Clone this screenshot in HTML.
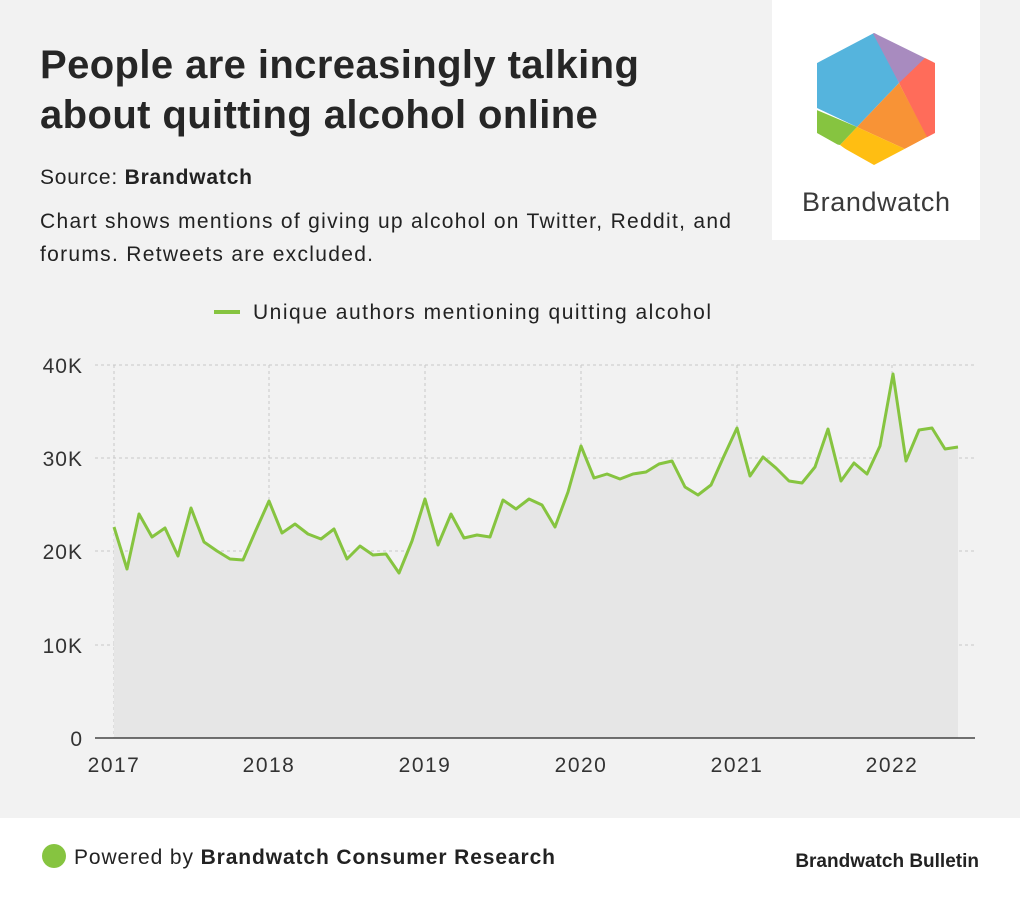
<!DOCTYPE html>
<html><head><meta charset="utf-8"><style>
body{margin:0;width:1020px;height:900px;background:#f2f2f2;font-family:"Liberation Sans",Arial,sans-serif;position:relative;overflow:hidden}
.t{position:absolute;color:#222}
</style></head><body>
<div class="t" style="left:40px;top:40px;font-size:40px;font-weight:bold;line-height:50px;color:#262626;letter-spacing:0.4px">People are increasingly talking<br>about quitting alcohol online</div>
<div class="t" style="left:40px;top:166px;font-size:21px;letter-spacing:0.8px">Source: <b>Brandwatch</b></div>
<div class="t" style="left:40px;top:205px;font-size:21px;line-height:33px;letter-spacing:1.3px">Chart shows mentions of giving up alcohol on Twitter, Reddit, and<br>forums. Retweets are excluded.</div>
<div style="position:absolute;left:772px;top:0;width:208px;height:240px;background:#fff"></div>
<svg style="position:absolute;left:0;top:0" width="1020" height="900">
<defs><clipPath id="hx"><polygon points="874,33 935,63 935,133 874,165 817,133 817,63"/></clipPath></defs>
<g clip-path="url(#hx)">
<polygon points="817,63 874,28 899,83 857,127 817,108" fill="#55b4dd"/>
<polygon points="870,28 940,58 899,83" fill="#a88bbf"/>
<polygon points="925,58 940,60 940,135 927,138 899,83" fill="#ff6c5a"/>
<polygon points="899,83 927,137 905,149 857,127" fill="#f89336"/>
<polygon points="857,127 905,149 874,170 840,145" fill="#ffbe12"/>
<polygon points="812,108 857,127 840,145 812,140" fill="#86c440"/>
</g>
<text x="802" y="211" textLength="148" font-size="27" fill="#3a3a3a">Brandwatch</text>
<line x1="214" y1="312" x2="240" y2="312" stroke="#86c440" stroke-width="4"/>
<text x="253" y="319" font-size="21" fill="#222" textLength="458">Unique authors mentioning quitting alcohol</text>
<g stroke="#c8c8c8" stroke-dasharray="3,3" stroke-width="1">
<line x1="95" y1="365" x2="975" y2="365"/><line x1="95" y1="458" x2="975" y2="458"/><line x1="95" y1="551" x2="975" y2="551"/><line x1="95" y1="645" x2="975" y2="645"/>
<line x1="114" y1="365" x2="114" y2="738"/><line x1="269" y1="365" x2="269" y2="738"/><line x1="425" y1="365" x2="425" y2="738"/><line x1="581" y1="365" x2="581" y2="738"/><line x1="737" y1="365" x2="737" y2="738"/><line x1="892" y1="365" x2="892" y2="738"/>
</g>
<polygon fill="#e6e6e6" points="114,738 114,527 127,569 139,514 152,537 165,528 178,556 191,508 204,542 217,551 230,559 243,560 256,530 269,501 282,533 295,524 308,534 321,539 334,529 347,559 360,546 373,555 386,554 399,573 412,541 425,499 438,545 451,514 464,538 477,535 490,537 503,500 516,509 529,499 542,505 555,527 568,492 581,446 594,478 607,474 620,479 633,474 646,472 659,464 672,461 685,487 698,495 711,485 724,456 737,428 750,476 763,457 776,468 789,481 802,483 815,467 828,429 841,481 854,463 867,474 880,446 893,374 906,461 919,430 932,428 945,449 958,447 958,738"/>
<polyline fill="none" stroke="#86c440" stroke-width="3" stroke-linejoin="round" points="114,527 127,569 139,514 152,537 165,528 178,556 191,508 204,542 217,551 230,559 243,560 256,530 269,501 282,533 295,524 308,534 321,539 334,529 347,559 360,546 373,555 386,554 399,573 412,541 425,499 438,545 451,514 464,538 477,535 490,537 503,500 516,509 529,499 542,505 555,527 568,492 581,446 594,478 607,474 620,479 633,474 646,472 659,464 672,461 685,487 698,495 711,485 724,456 737,428 750,476 763,457 776,468 789,481 802,483 815,467 828,429 841,481 854,463 867,474 880,446 893,374 906,461 919,430 932,428 945,449 958,447"/>
<line x1="95" y1="738" x2="975" y2="738" stroke="#444" stroke-width="1.5"/>
<g font-size="21" fill="#333" text-anchor="end" letter-spacing="1">
<text x="83" y="373">40K</text><text x="83" y="466">30K</text><text x="83" y="559">20K</text><text x="83" y="653">10K</text><text x="83" y="746">0</text>
</g>
<g font-size="21" fill="#333" text-anchor="middle" letter-spacing="1.5">
<text x="114" y="772">2017</text><text x="269" y="772">2018</text><text x="425" y="772">2019</text><text x="581" y="772">2020</text><text x="737" y="772">2021</text><text x="892" y="772">2022</text>
</g>
<rect x="0" y="818" width="1020" height="82" fill="#fff"/>
<circle cx="54" cy="856" r="12" fill="#86c440"/>
<text x="74" y="864" font-size="21" fill="#222" textLength="481">Powered by <tspan font-weight="bold">Brandwatch Consumer Research</tspan></text>
<text x="979" y="867" font-size="19" font-weight="bold" fill="#222" text-anchor="end">Brandwatch Bulletin</text>
</svg>
</body></html>
